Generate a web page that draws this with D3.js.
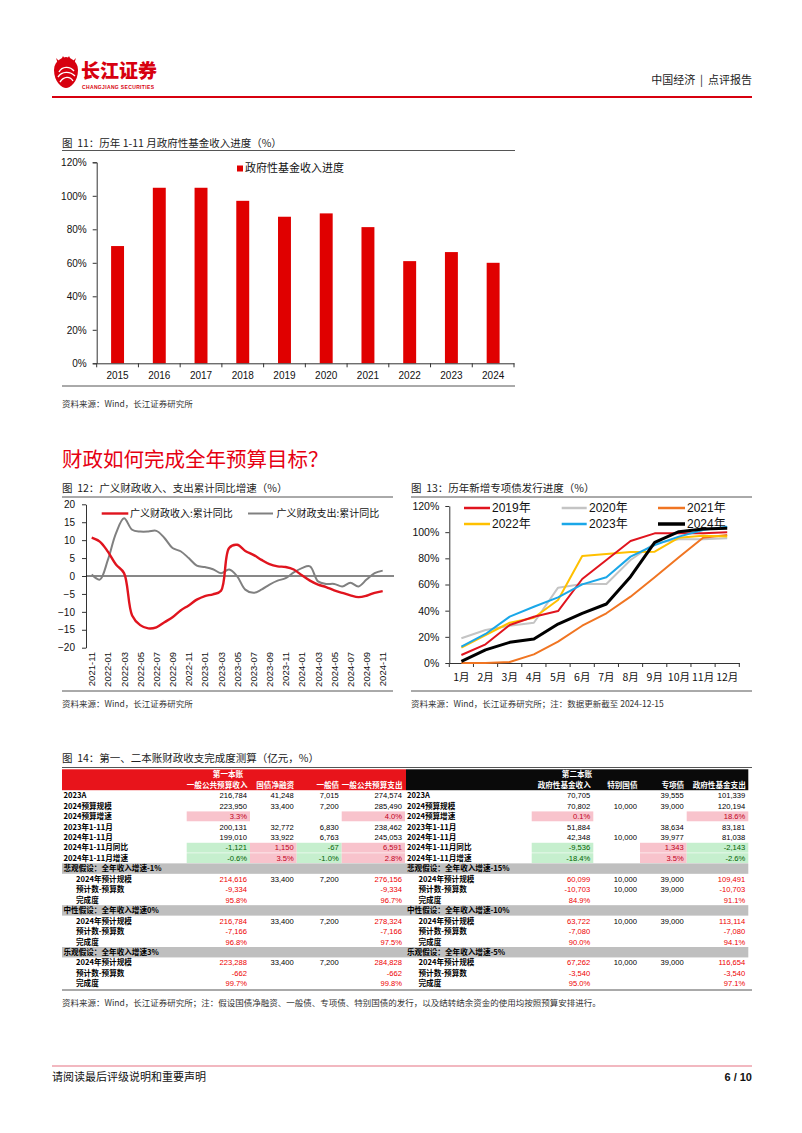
<!DOCTYPE html>
<html><head><meta charset="utf-8">
<script src="https://cdn.jsdelivr.net/npm/d3@7"></script>
<style>
body{margin:0;background:#fff;}
svg{display:block;font-family:"Liberation Sans","Noto Sans CJK SC",sans-serif;}
</style></head><body>
<svg id="page" width="802" height="1133"></svg>
<script>
// ---------------- DATA ----------------
const years = ["2015","2016","2017","2018","2019","2020","2021","2022","2023","2024"];
const fundProgress = [70, 104.8, 104.8, 97, 87.5, 89.5, 81.3, 61, 66.4, 60];
const yTicks11 = [0,20,40,60,80,100,120];

const months12 = ["2021-11","2021-12","2022-01","2022-02","2022-03","2022-04","2022-05","2022-06","2022-07","2022-08","2022-09","2022-10","2022-11","2022-12",
"2023-01","2023-02","2023-03","2023-04","2023-05","2023-06","2023-07","2023-08","2023-09","2023-10","2023-11","2023-12",
"2024-01","2024-02","2024-03","2024-04","2024-05","2024-06","2024-07","2024-08","2024-09","2024-10","2024-11"];
const revenueYoY = [10.7,9.6,6.8,3.2,0.8,-11.0,-13.7,-14.6,-14.3,-12.9,-11.5,-9.6,-8.2,-6.6,-5.6,-5.1,-4.1,7.8,8.7,7.0,5.9,4.5,3.3,2.7,2.5,1.8,0.2,-1.3,-2.4,-3.1,-4.0,-4.7,-5.4,-5.9,-5.5,-4.7,-4.2];
const spendingYoY = [0.4,-1.0,4.5,11.9,16.1,12.9,12.4,12.4,12.6,10.6,7.8,6.9,5.0,2.9,2.5,1.9,0.8,1.8,-0.1,-3.8,-4.7,-3.8,-2.4,-1.3,-0.6,1.0,2.2,2.7,-1.5,-2.2,-2.2,-2.9,-1.9,-2.9,-1.0,0.8,1.5];
const yTicks12 = [20,15,10,5,0,-5,-10,-15,-20];
const seriesNames12 = ["广义财政收入:累计同比","广义财政支出:累计同比"];

const months13 = ["1月","2月","3月","4月","5月","6月","7月","8月","9月","10月","11月","12月"];
const bondYears = ["2019年","2020年","2021年","2022年","2023年","2024年"];
const bond2019 = [6.1,14.3,29,35.4,39.7,64.2,78.7,93.2,99.1,99.1,99.1,100];
const bond2020 = [18.9,25.2,28.5,30.8,57.6,60.4,60.4,78.7,91.5,94.5,94.5,95.3];
const bond2021 = [0,0,0.8,6.6,16.3,28.5,38,50.7,65.5,80.8,95.8,97.8];
const bond2022 = [11.7,21.4,30.8,34.6,48.2,81.8,83.3,84.8,85.1,95.8,97.3,96.6];
const bond2023 = [12.5,22.2,35.4,43,50.2,60.1,65.5,81.3,90.2,96.6,101.7,104.2];
const bond2024 = [1.3,10,15.8,18.3,29.8,38,45.1,66,92.2,100.4,102.4,102.9];
const yTicks13 = [0,20,40,60,80,100,120];

const acct1Title = "第一本账";
const acct2Title = "第二本账";
const acct1Headers = ["一般公共预算收入","国债净融资","一般债","一般公共预算支出"];
const acct2Headers = ["政府性基金收入","特别国债","专项债","政府性基金支出"];
const rowLabels = ["2023A","2024预算规模","2024预算增速","2023年1-11月","2024年1-11月","2024年1-11月同比","2024年1-11月增速"];
const pctRows = [2,6];
const signRows = [2,5,6];
const acct1Values = [
  [216784,41248,7015,274574],
  [223950,33400,7200,285490],
  [3.3,null,null,4.0],
  [200131,32772,6830,238462],
  [199010,33922,6763,245053],
  [-1121,1150,-67,6591],
  [-0.6,3.5,-1.0,2.8]
];
const acct2Values = [
  [70705,null,39555,101339],
  [70802,10000,39000,120194],
  [0.1,null,null,18.6],
  [51884,null,38634,83181],
  [42348,10000,39977,81038],
  [-9536,null,1343,-2143],
  [-18.4,null,3.5,-2.6]
];
const scenario1Names = ["悲观假设：全年收入增速-1%","中性假设：全年收入增速0%","乐观假设：全年收入增速3%"];
const scenario2Names = ["悲观假设：全年收入增速-15%","中性假设：全年收入增速-10%","乐观假设：全年收入增速-5%"];
const scenarioRowLabels = ["2024年预计规模","预计数-预算数","完成度"];
const scenario1Values = [
  [[214616,33400,7200,276156],[-9334,null,null,-9334],[95.8,null,null,96.7]],
  [[216784,33400,7200,278324],[-7166,null,null,-7166],[96.8,null,null,97.5]],
  [[223288,33400,7200,284828],[-662,null,null,-662],[99.7,null,null,99.8]]
];
const scenario2Values = [
  [[60099,10000,39000,109491],[-10703,10000,39000,-10703],[84.9,null,null,91.1]],
  [[63722,10000,39000,113114],[-7080,null,null,-7080],[90.0,null,null,94.1]],
  [[67262,10000,39000,116654],[-3540,null,null,-3540],[95.0,null,null,97.1]]
];

// ---------------- DRAW ----------------
const svg = d3.select("#page");
const CJK = '"Noto Sans CJK SC","Liberation Sans",sans-serif';
const LAT = '"Liberation Sans","Noto Sans CJK SC",sans-serif';
const loc = d3.formatLocale({decimal:".",thousands:",",grouping:[3],currency:["",""],minus:"-"});
const fmtN = loc.format(",");

// header
const logo = svg.append("g");
logo.append("path").attr("d","M54,70 C54,60 64,57 66,57 C68,57 78,60 78,70 C78,82 70,88 66,88 C62,88 54,82 54,70 Z").attr("fill","#d7000f");
logo.append("path").attr("d","M59,72 C62,66 70,66 74,71 M58,77 C62,71 70,71 75,76 M60,82 C64,76 70,76 73,81").attr("stroke","#fff").attr("stroke-width",1.4).attr("fill","none");
logo.append("path").attr("d","M56,58 L60,62 L63,56 L66,61 L69,56 L72,62 L76,58 L74,64 L58,64 Z").attr("fill","#d7000f");
logo.append("text").attr("x",81).attr("y",78).attr("font-family",CJK).attr("font-weight",900).attr("font-size",19).attr("fill","#d7000f").text("长江证券");
logo.append("text").attr("x",82).attr("y",88.5).attr("font-size",5).attr("font-weight","bold").attr("fill","#d7000f").attr("letter-spacing",0.35).text("CHANGJIANG SECURITIES");
svg.append("text").attr("x",752).attr("y",84).attr("text-anchor","end").attr("font-family",CJK).attr("font-size",11).attr("fill","#222").attr("xml:space","preserve").text("中国经济  |  点评报告");
svg.append("line").attr("x1",52).attr("x2",752).attr("y1",97).attr("y2",97).attr("stroke","#d7000f").attr("stroke-width",2);

function hline(x1,x2,y,color,w){svg.append("line").attr("x1",x1).attr("x2",x2).attr("y1",y).attr("y2",y).attr("stroke",color||"#444").attr("stroke-width",w||1);}
function txt(x,y,s,size,opts){
  const t = svg.append("text").attr("x",x).attr("y",y).attr("font-size",size).attr("xml:space","preserve").text(s);
  opts = opts||{};
  t.attr("fill",opts.fill||"#111").attr("font-family",opts.family||CJK);
  if(opts.anchor) t.attr("text-anchor",opts.anchor);
  if(opts.weight) t.attr("font-weight",opts.weight);
  return t;
}

// ---- Chart 11 ----
txt(62,147,"图  11：历年 1-11 月政府性基金收入进度（%）",10.5,{fill:"#222"});
hline(62,515,150.5,"#555");
{
  const x = d3.scaleBand().domain(years).range([96.7,514]).paddingInner(0.69).paddingOuter(0.345);
  const y = d3.scaleLinear().domain([0,120]).range([363.3,162.3]);
  const g = svg.append("g");
  g.selectAll("rect").data(fundProgress).join("rect")
    .attr("x",(d,i)=>x(years[i])).attr("width",x.bandwidth())
    .attr("y",d=>y(d)).attr("height",d=>y(0)-y(d)).attr("fill","#e00000");
  const ya = g.append("g").attr("transform","translate(96.7,0)")
    .call(d3.axisLeft(y).tickValues(yTicks11).tickFormat(d=>d+"%").tickSize(4).tickPadding(6));
  ya.selectAll("text").attr("font-size",10).attr("font-family","Liberation Sans").attr("fill","#111");
  ya.selectAll("line,path").attr("stroke","#333");
  const xa = g.append("g").attr("transform","translate(0,363.3)")
    .call(d3.axisBottom(x).tickSizeInner(0).tickSizeOuter(0).tickPadding(9));
  xa.selectAll("text").attr("font-size",10).attr("font-family","Liberation Sans").attr("fill","#111");
  xa.select("path").attr("stroke","#333");
  const step = x.step();
  g.selectAll("line.bt").data(d3.range(years.length+1)).join("line").attr("class","bt")
    .attr("x1",i=>96.7+i*step).attr("x2",i=>96.7+i*step).attr("y1",363.3).attr("y2",367.3).attr("stroke","#333");
  g.append("rect").attr("x",237).attr("y",165.5).attr("width",6).attr("height",6).attr("fill","#e00000");
  txt(245,172,"政府性基金收入进度",11,{fill:"#111"});
}
hline(62,515,386,"#555");
txt(62,407,"资料来源：Wind，长江证券研究所",8.5,{fill:"#333"});

// Section title
txt(62,467,"财政如何完成全年预算目标？",20.5,{fill:"#e60012"});

// ---- Chart 12 ----
txt(62,492,"图  12：广义财政收入、支出累计同比增速（%）",10.5,{fill:"#222"});
hline(62,393,497,"#555");
{
  const x = d3.scalePoint().domain(months12).range([91.7,382.7]);
  const y = d3.scaleLinear().domain([-20,20]).range([647.7,504.3]);
  const g = svg.append("g");
  const ya = g.append("g").attr("transform","translate(86,0)")
    .call(d3.axisLeft(y).tickValues(yTicks12).tickSize(4).tickSizeOuter(0).tickPadding(7));
  ya.selectAll("text").attr("font-size",10).attr("font-family","Liberation Sans").attr("fill","#111");
  ya.selectAll("line,path").attr("stroke","#333");
  g.append("line").attr("x1",86).attr("x2",394).attr("y1",y(0)).attr("y2",y(0)).attr("stroke","#111");
  const labels = months12.filter((d,i)=>i%2===0);
  g.selectAll("text.xl").data(labels).join("text").attr("class","xl")
    .attr("transform",d=>`translate(${x(d)+3.5},652) rotate(-90)`)
    .attr("text-anchor","end").attr("font-size",9.5).attr("font-family","Liberation Sans").attr("fill","#111").text(d=>d);
  const line = d3.line().x((d,i)=>x(months12[i])).y(d=>y(d)).curve(d3.curveCatmullRom.alpha(0.5));
  g.append("path").attr("d",line(spendingYoY)).attr("fill","none").attr("stroke","#808080").attr("stroke-width",2);
  g.append("path").attr("d",line(revenueYoY)).attr("fill","none").attr("stroke","#e0141e").attr("stroke-width",2.4);
  g.append("line").attr("x1",101.7).attr("x2",128.3).attr("y1",513.5).attr("y2",513.5).attr("stroke","#e0141e").attr("stroke-width",2.4);
  txt(130,517,seriesNames12[0],10,{fill:"#111"});
  g.append("line").attr("x1",248).attr("x2",273).attr("y1",513.5).attr("y2",513.5).attr("stroke","#808080").attr("stroke-width",2);
  txt(276.5,517,seriesNames12[1],10,{fill:"#111"});
}
hline(62,393,691,"#555");
txt(62,707,"资料来源：Wind，长江证券研究所",8.5,{fill:"#333"});

// ---- Chart 13 ----
txt(411,492,"图  13：历年新增专项债发行进度（%）",10.5,{fill:"#222"});
hline(411,752,497,"#555");
{
  const x = d3.scaleBand().domain(months13).range([449.3,739.3]);
  const y = d3.scaleLinear().domain([0,120]).range([663,506]);
  const g = svg.append("g");
  const ya = g.append("g").attr("transform","translate(449.3,0)")
    .call(d3.axisLeft(y).tickValues(yTicks13).tickFormat(d=>d+"%").tickSize(4).tickSizeOuter(0).tickPadding(6));
  ya.selectAll("text").attr("font-size",10.5).attr("font-family","Liberation Sans").attr("fill","#111");
  ya.selectAll("line,path").attr("stroke","#333");
  const xa = g.append("g").attr("transform","translate(0,663)")
    .call(d3.axisBottom(x).tickSizeInner(0).tickSizeOuter(0).tickPadding(11));
  xa.selectAll("text").attr("font-size",10.5).attr("font-family",CJK).attr("fill","#111");
  xa.select("path").attr("stroke","#333");
  g.selectAll("line.bt").data(d3.range(months13.length+1)).join("line").attr("class","bt")
    .attr("x1",i=>449.3+i*x.step()).attr("x2",i=>449.3+i*x.step()).attr("y1",663).attr("y2",667).attr("stroke","#333");
  const series = [bond2019,bond2020,bond2021,bond2022,bond2023,bond2024];
  const colors = ["#e0141e","#c4c4c4","#f07522","#ffc000","#1aa7e8","#000000"];
  const widths = [2,2,2,2,2,3];
  const line = d3.line().x((d,i)=>x(months13[i])+x.bandwidth()/2).y(d=>y(d));
  [1,2,3,0,4,5].forEach(k=>{
    g.append("path").attr("d",line(series[k])).attr("fill","none").attr("stroke",colors[k]).attr("stroke-width",widths[k]).attr("stroke-linejoin","round");
  });
  const legX = [[464,490,492],[561.7,586.7,589],[658,685,687]];
  const legY = [508,524];
  bondYears.forEach((name,k)=>{
    const c = k%3, r = Math.floor(k/3);
    g.append("line").attr("x1",legX[c][0]).attr("x2",legX[c][1]).attr("y1",legY[r]).attr("y2",legY[r]).attr("stroke",colors[k]).attr("stroke-width",widths[k]+0.5);
    txt(legX[c][2],legY[r]+4.3,name,12,{fill:"#111",family:LAT});
  });
}
hline(411,752,691,"#555");
txt(411,707,"资料来源：Wind，长江证券研究所；注：数据更新截至 2024-12-15",8.5,{fill:"#333"});

// ---- Table ----
txt(62,762,"图  14：第一、二本账财政收支完成度测算（亿元，%）",10.5,{fill:"#222"});
hline(62,752,767.5,"#555");
{
  const nRows = 2 + rowLabels.length + scenarioRowLabels.length*3 + 3;
  const ry = d3.scaleBand().domain(d3.range(nRows)).range([769.3,988.8]);
  const rh = ry.bandwidth();
  const tables = [
    {x0:62,x1:406,labelX:63.5,indentX:76,cols:[186.7,250,296.7,341.7,405],head:acct1Headers,title:acct1Title,titleX:228,bg:"#e8141b",vals:acct1Values,scNames:scenario1Names,scVals:scenario1Values},
    {x0:406,x1:748.3,labelX:407,indentX:418.5,cols:[531.7,593.3,640,686.7,748.3],head:acct2Headers,title:acct2Title,titleX:577,bg:"#0a0a0a",vals:acct2Values,scNames:scenario2Names,scVals:scenario2Values}
  ];
  const fs = 7.6;
  const numFam = '"Liberation Sans",sans-serif';
  tables.forEach(T=>{
    svg.append("rect").attr("x",T.x0).attr("y",ry(0)).attr("width",T.x1-T.x0).attr("height",rh*2).attr("fill",T.bg);
    txt(T.titleX,ry(0)+rh/2+2.8,T.title,fs,{fill:"#fff",anchor:"middle",weight:"bold"});
    T.head.forEach((h,j)=>txt(T.cols[j+1]-2.5,ry(1)+rh/2+2.8,h,fs,{fill:"#fff",anchor:"end",weight:"bold"}));
    const fmt = (v,isPct)=> v==null?"":(isPct? v.toFixed(1)+"%" : fmtN(v));
    T.vals.forEach((row,i)=>{
      const r = i+2;
      txt(T.labelX,ry(r)+rh/2+2.8,rowLabels[i],fs,{fill:"#000",weight:"bold"});
      row.forEach((v,j)=>{
        if(v==null) return;
        let fill="#000";
        if(signRows.includes(i)){
          const pos = v>0;
          svg.append("rect").attr("x",T.cols[j]).attr("y",ry(r)+0.3).attr("width",T.cols[j+1]-T.cols[j]).attr("height",rh-0.6).attr("fill",pos?"#f8c3cc":"#c6efce");
          fill = pos?"#c0001a":"#006100";
        }
        txt(T.cols[j+1]-3,ry(r)+rh/2+2.8,fmt(v,pctRows.includes(i)),fs,{fill:fill,family:numFam,anchor:"end"});
      });
    });
    let r0 = 2 + rowLabels.length;
    T.scNames.forEach((nm,s)=>{
      svg.append("rect").attr("x",T.x0).attr("y",ry(r0)).attr("width",T.x1-T.x0).attr("height",rh).attr("fill","#bfbfbf");
      txt(T.labelX,ry(r0)+rh/2+2.8,nm,fs,{fill:"#000",weight:"bold"});
      T.scVals[s].forEach((row,i)=>{
        const r = r0+1+i;
        txt(T.indentX,ry(r)+rh/2+2.8,scenarioRowLabels[i],fs,{fill:"#000",weight:"bold"});
        row.forEach((v,j)=>{
          if(v==null) return;
          const red = (j===0||j===3);
          txt(T.cols[j+1]-3,ry(r)+rh/2+2.8,fmt(v,i===2),fs,{fill:red?"#ee0000":"#000",family:numFam,anchor:"end"});
        });
      });
      r0 += 4;
    });
  });
}
hline(62,752,990,"#555");
txt(62,1006,"资料来源：Wind，长江证券研究所；注：假设国债净融资、一般债、专项债、特别国债的发行，以及结转结余资金的使用均按照预算安排进行。",8.5,{fill:"#333"});

// footer
hline(52,752,1066,"#f2b8c0",2);
txt(52,1081,"请阅读最后评级说明和重要声明",11,{fill:"#111"});
txt(752,1081,"6 / 10",11,{fill:"#111",anchor:"end",weight:"bold",family:'"Liberation Sans",sans-serif'});
</script>
</body></html>
